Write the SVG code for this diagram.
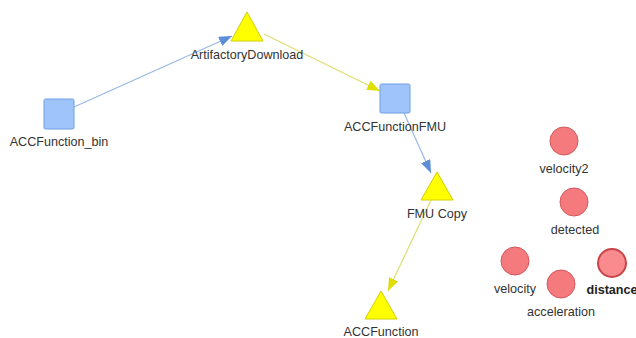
<svg xmlns="http://www.w3.org/2000/svg" width="636" height="338" viewBox="0 0 636 338">
<defs>
<marker id="ab" markerUnits="userSpaceOnUse" markerWidth="14" markerHeight="10" refX="13" refY="5" orient="auto"><path d="M0,0 L13,5 L0,10 Z" fill="#5b8ed6"/></marker>
<marker id="ay" markerUnits="userSpaceOnUse" markerWidth="14" markerHeight="10" refX="13" refY="5" orient="auto"><path d="M0,0 L13,5 L0,10 Z" fill="#dede00"/></marker>
</defs>
<style>
text{font-family:"Liberation Sans",Arial,sans-serif;font-size:12.6px;fill:#333;text-anchor:middle}
.tri{fill:#ffff00;stroke:#d0d000;stroke-width:1}
.sq{fill:#9fc3fb;stroke:#6f9fe0;stroke-width:1}
.ci{fill:#f47a7e;stroke:#d4585c;stroke-width:1}
.eb{stroke:#98b8e6;stroke-width:1.2;fill:none}
.ey{stroke:#dede70;stroke-width:1.2;fill:none}
</style>
<g id="edges">
<line class="eb" x1="74" y1="107" x2="232" y2="36" marker-end="url(#ab)"/>
<line class="ey" x1="264" y1="34" x2="380" y2="91" marker-end="url(#ay)"/>
<line class="eb" x1="404" y1="113" x2="431" y2="173" marker-end="url(#ab)"/>
<line class="ey" x1="431" y1="200" x2="388" y2="291" marker-end="url(#ay)"/>
</g>
<g id="ArtifactoryDownload"><polygon class="tri" points="247,12 263,41 231,41"/><text x="247" y="59">ArtifactoryDownload</text></g>
<g id="ACCFunction_bin"><rect class="sq" x="44" y="99" width="30" height="30" rx="1.5"/><text x="59" y="146">ACCFunction_bin</text></g>
<g id="ACCFunctionFMU"><rect class="sq" x="380" y="84" width="30" height="29" rx="1.5"/><text x="395" y="131">ACCFunctionFMU</text></g>
<g id="FMUCopy"><polygon class="tri" points="437,172 453,200 421,200"/><text x="437" y="218">FMU Copy</text></g>
<g id="ACCFunction"><polygon class="tri" points="381,291 397,319 365,319"/><text x="381" y="336">ACCFunction</text></g>
<g id="velocity2"><circle class="ci" cx="564" cy="141" r="14"/><text x="564" y="173">velocity2</text></g>
<g id="detected"><circle class="ci" cx="574" cy="202" r="14"/><text x="575" y="234">detected</text></g>
<g id="velocity"><circle class="ci" cx="515" cy="261" r="14"/><text x="515" y="293">velocity</text></g>
<g id="acceleration"><circle class="ci" cx="561" cy="284" r="14"/><text x="561" y="316">acceleration</text></g>
<g id="distance"><circle cx="612" cy="263" r="14" fill="#f98a8e" stroke="#c84448" stroke-width="2"/><text x="612" y="294" style="font-weight:bold;fill:#222">distance</text></g>
</svg>
